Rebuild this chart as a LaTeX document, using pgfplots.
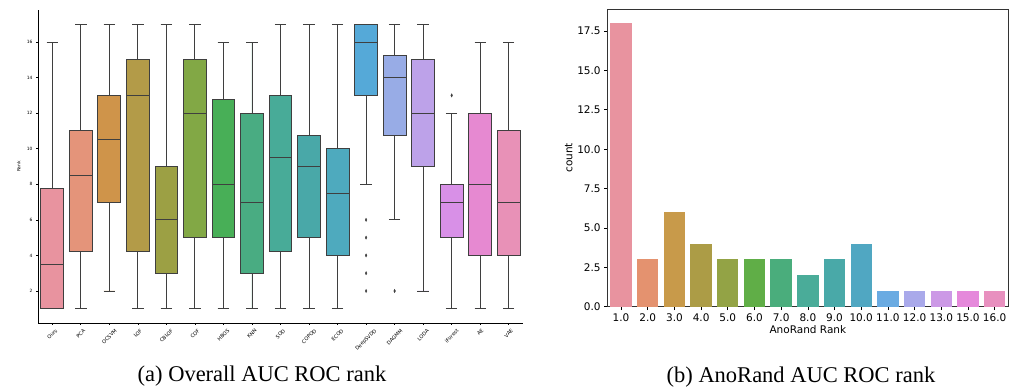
\documentclass[border=0pt]{standalone}
\usepackage{pgfplots}
\pgfplotsset{compat=1.18}
\usepgfplotslibrary{statistics}
\usepackage{graphicx}
\usepackage{fontspec}
\setmainfont{DejaVu Sans}
\newfontfamily\capfont{Liberation Serif}
\definecolor{edge}{HTML}{3F3F3F}
% left palette
\definecolor{a0}{HTML}{E8939F}\definecolor{a1}{HTML}{E4947A}\definecolor{a2}{HTML}{CF944A}
\definecolor{a3}{HTML}{B39B48}\definecolor{a4}{HTML}{9CA044}\definecolor{a5}{HTML}{82A845}
\definecolor{a6}{HTML}{48AF57}\definecolor{a7}{HTML}{49AC82}\definecolor{a8}{HTML}{48AB98}
\definecolor{a9}{HTML}{49A8A8}\definecolor{a10}{HTML}{4EAABE}\definecolor{a11}{HTML}{55A9D8}
\definecolor{a12}{HTML}{98ACE6}\definecolor{a13}{HTML}{BDA2E9}\definecolor{a14}{HTML}{D890E7}
\definecolor{a15}{HTML}{E689D1}\definecolor{a16}{HTML}{E891B7}
% right palette
\definecolor{b0}{HTML}{E8939F}\definecolor{b1}{HTML}{E4926F}\definecolor{b2}{HTML}{C89A4A}
\definecolor{b3}{HTML}{AC9C46}\definecolor{b4}{HTML}{93A345}\definecolor{b5}{HTML}{60AE47}
\definecolor{b6}{HTML}{4AAD7C}\definecolor{b7}{HTML}{4AAC99}\definecolor{b8}{HTML}{49A9A8}
\definecolor{b9}{HTML}{50A7C2}\definecolor{b10}{HTML}{6AABE2}\definecolor{b11}{HTML}{A9A9EA}
\definecolor{b12}{HTML}{CC99E6}\definecolor{b13}{HTML}{E589DB}\definecolor{b14}{HTML}{E890BF}
\newcommand{\bx}[7]{\addplot[boxplot prepared={draw position=#1, lower whisker=#2, lower quartile=#3, median=#4, upper quartile=#5, upper whisker=#6}, fill=#7, draw=edge, line width=0.9pt] coordinates {};}
\newcommand{\br}[3]{\addplot[ybar, bar width=0.8, bar shift=0pt, fill=#3, draw=none] coordinates {(#1,#2)};}
\newcommand{\rl}[1]{\rotatebox{45}{#1}}
\begin{document}
\begin{tikzpicture}
\path[use as bounding box] (0,0) rectangle (1013pt,-390pt);
\begin{axis}[at={(38pt,-323pt)}, anchor=south west, scale only axis,
  width=485pt, height=313pt,
  xmin=-0.5, xmax=16.5, ymin=0.2, ymax=17.8,
  axis x line*=bottom, axis y line*=left,
  axis line style={-, black, line width=0.9pt},
  tick align=outside, major tick length=2pt,
  tick style={black, line width=0.6pt},
  ytick={2,4,...,16}, xtick={0,...,16},
  xticklabels={\rl{Ours},\rl{PCA},\rl{OCSVM},\rl{LOF},\rl{CBLOF},\rl{COF},\rl{HBOS},\rl{KNN},\rl{SOD},\rl{COPOD},\rl{ECOD},\rl{DeepSVDD},\rl{DAGMM},\rl{LODA},\rl{iForest},\rl{AE},\rl{VAE}},
  xticklabel style={anchor=north, inner sep=0pt, yshift=-3.5pt, font=\fontsize{5}{6}\selectfont},
  y tick label style={font=\fontsize{4.4}{5}\selectfont},
  /pgf/number format/assume math mode=true,
  ylabel={Rank}, ylabel style={font=\fontsize{4.4}{5}\selectfont},
  ylabel style={at={(axis description cs:0,0.5)}, anchor=south, xshift=0pt, yshift=14pt},
  boxplot/draw direction=y,
  boxplot/box extend=0.8, boxplot/whisker extend=0.4,
  clip=false]
\bx{0}{1}{1}{3.5}{7.75}{16}{a0}
\bx{1}{1}{4.25}{8.5}{11}{17}{a1}
\bx{2}{2}{7}{10.5}{13}{17}{a2}
\bx{3}{1}{4.25}{13}{15}{17}{a3}
\bx{4}{1}{3}{6}{9}{17}{a4}
\bx{5}{1}{5}{12}{15}{17}{a5}
\bx{6}{1}{5}{8}{12.75}{16}{a6}
\bx{7}{1}{3}{7}{12}{16}{a7}
\bx{8}{1}{4.25}{9.5}{13}{17}{a8}
\bx{9}{1}{5}{9}{10.75}{17}{a9}
\bx{10}{1}{4}{7.5}{10}{17}{a10}
\bx{11}{8}{13}{16}{17}{17}{a11}
\bx{12}{6}{10.75}{14}{15.25}{17}{a12}
\bx{13}{2}{9}{12}{15}{17}{a13}
\bx{14}{1}{5}{7}{8}{12}{a14}
\bx{15}{1}{4}{8}{12}{16}{a15}
\bx{16}{1}{4}{7}{11}{16}{a16}
\addplot[only marks, mark=diamond*, mark size=1.6pt, mark options={xscale=0.7, fill=edge, draw=edge}] coordinates {(11,6) (11,5) (11,4) (11,3) (11,2) (12,2) (14,13)};
\end{axis}
\begin{axis}[at={(607.7pt,-306.7pt)}, anchor=south west, scale only axis,
  width=400.3pt, height=297.7pt,
  xmin=-0.5, xmax=14.5, ymin=0, ymax=18.9,
  axis line style={line width=0.9pt, black!80},
  tick align=outside, major tick length=3.5pt,
  tick style={black, line width=0.7pt},
  xtick pos=left, ytick pos=left,
  ytick={0,2.5,...,17.5}, xtick={0,...,14},
  xticklabels={1.0,2.0,3.0,4.0,5.0,6.0,7.0,8.0,9.0,10.0,11.0,12.0,13.0,15.0,16.0},
  yticklabel style={/pgf/number format/.cd, fixed, fixed zerofill, precision=1},
  /pgf/number format/assume math mode=true,
  tick label style={font=\fontsize{10.5}{12}\selectfont},
  label style={font=\fontsize{10.5}{12}\selectfont},
  xlabel={AnoRand Rank}, ylabel={count},
  xlabel style={yshift=3pt}, ylabel style={yshift=-2pt}]
\br{0}{18}{b0}
\br{1}{3}{b1}
\br{2}{6}{b2}
\br{3}{4}{b3}
\br{4}{3}{b4}
\br{5}{3}{b5}
\br{6}{3}{b6}
\br{7}{2}{b7}
\br{8}{3}{b8}
\br{9}{4}{b9}
\br{10}{1}{b10}
\br{11}{1}{b11}
\br{12}{1}{b12}
\br{13}{1}{b13}
\br{14}{1}{b14}
\end{axis}
\node[font=\capfont\fontsize{22.5}{26}\selectfont] at (262pt,-376pt) {(a) Overall AUC ROC rank};
\node[font=\capfont\fontsize{22.5}{26}\selectfont] at (801pt,-377pt) {(b) AnoRand AUC ROC rank};
\end{tikzpicture}
\end{document}
